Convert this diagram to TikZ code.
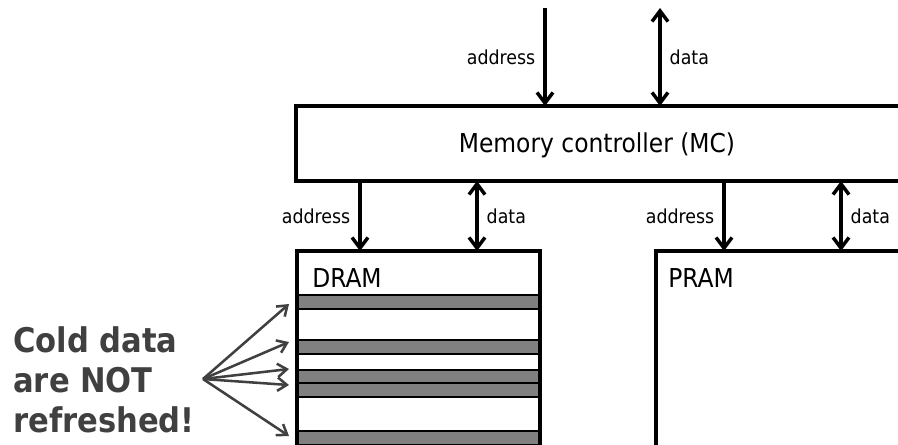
\documentclass[tikz,border=0pt]{standalone}
\usepackage{fontspec}
\setmainfont{DejaVu Sans Condensed}
\usetikzlibrary{arrows.meta}
\definecolor{txtgray}{RGB}{64,64,64}
\definecolor{stripegray}{RGB}{128,128,128}
\begin{document}
\begin{tikzpicture}[x=0.75pt,y=-0.75pt,
  box/.style={draw=black, line width=2.8pt, inner sep=0pt, outer sep=0pt, anchor=north west},
  bus/.style={line width=2.6pt, -{Straight Barb[length=8pt,width=12pt,line width=2.6pt]}},
  bibus/.style={line width=2.6pt, {Straight Barb[length=8pt,width=12pt,line width=2.6pt]}-{Straight Barb[length=8pt,width=12pt,line width=2.6pt]}},
  lbl/.style={font=\fontsize{14.5}{17}\selectfont, inner sep=0pt},
  title/.style={font=\fontsize{19.5}{23}\selectfont, inner sep=0pt},
  cold/.style={font=\fontsize{25.5}{30}\selectfont\bfseries, text=txtgray, inner sep=0pt, anchor=base west},
  stripe/.style={draw=black, line width=2pt, fill=stripegray},
  pointer/.style={draw=txtgray, line width=1.9pt, -{Straight Barb[length=7pt,width=10pt,line width=1.9pt]}}
]
\useasboundingbox (0,0) rectangle (898,444);
\clip (0,0) rectangle (898,444);

% boxes
\node[box, minimum width=468pt, minimum height=56.25pt] (mc) at (296,106) {};
\node[title, anchor=base] (mctext) at (597,152) {Memory controller (MC)};

\foreach \a/\b in {295/309,340/354,370/383,383/397,431/445}
  \draw[stripe] (297,\a) rectangle (540,\b);
\node[box, minimum width=182.25pt, minimum height=164.25pt] (dram) at (297,251) {};
\node[title, anchor=base west] (dramtext) at (312,287) {DRAM};

\node[box, minimum width=225pt, minimum height=164.25pt] (pram) at (656,251) {};
\node[title, anchor=base west] (pramtext) at (668,287) {PRAM};

% top bus
\coordinate (topA) at (545,8);
\coordinate (topD) at (660,8);
\draw[bus] (topA) -- node[lbl, left=6pt] {address} (topA |- mc.north);
\draw[bibus] (topD) -- node[lbl, right=6pt] {data} (topD |- mc.north);

% DRAM bus
\coordinate (dA) at (360,0);
\coordinate (dD) at (477,0);
\draw[bus] (dA |- mc.south) -- node[lbl, left=6pt] {address} (dA |- dram.north);
\draw[bibus] (dD |- mc.south) -- node[lbl, right=6pt] {data} (dD |- dram.north);

% PRAM bus
\coordinate (pA) at (724,0);
\coordinate (pD) at (841,0);
\draw[bus] (pA |- mc.south) -- node[lbl, left=6pt] {address} (pA |- pram.north);
\draw[bibus] (pD |- mc.south) -- node[lbl, right=6pt] {data} (pD |- pram.north);

% cold data text
\node[cold] (c1) at (13,352) {Cold data};
\node[cold] (c2) at (13,392) {are NOT};
\node[cold] (c3) at (13,432) {refreshed!};

\coordinate (src) at (203,379);
\coordinate (t1) at (289,304);
\coordinate (t2) at (289,342);
\coordinate (t3) at (289,369);
\coordinate (t4) at (289,385);
\coordinate (t5) at (289,436);
\foreach \t in {t1,t2,t3,t4,t5}
  \draw[pointer] (src) -- (\t);
\end{tikzpicture}
\end{document}
